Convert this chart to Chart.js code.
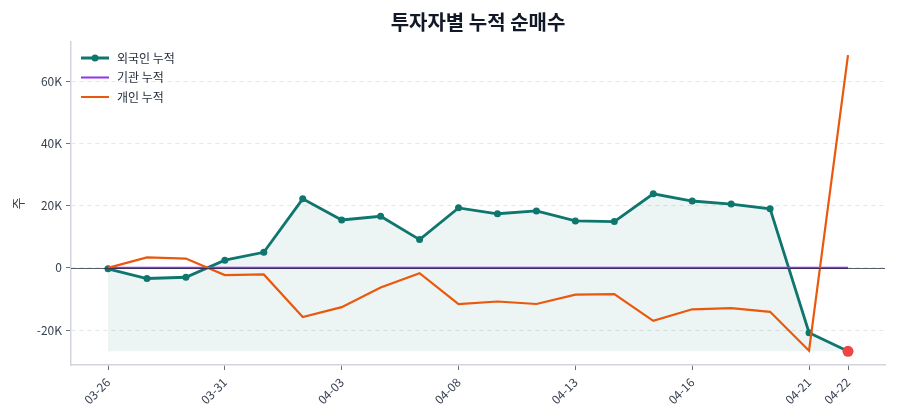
<!DOCTYPE html>
<html><head><meta charset="utf-8">
<script src="https://cdn.jsdelivr.net/npm/chart.js@4/dist/chart.umd.min.js"></script>
<style>html,body{margin:0;padding:0;background:#fff}</style>
</head><body>
<canvas id="c" width="900" height="420"></canvas>
<script>
const dates = ['03-26','03-27','03-28','03-31','04-01','04-02','04-03','04-04','04-07','04-08','04-09','04-10','04-13','04-14','04-15','04-16','04-17','04-18','04-21','04-22'];
const foreign = [-300,-3400,-3000,2500,5000,22200,15400,16600,9100,19300,17400,18300,15100,14900,23800,21500,20500,19000,-20800,-26800];
const institution = [0,0,0,0,0,0,0,0,0,0,0,0,0,0,0,0,0,0,0,0];
const individual = [0,3400,3000,-2300,-2100,-15800,-12600,-6300,-1700,-11600,-10800,-11600,-8600,-8400,-17000,-13300,-12900,-14100,-26600,68400];
const yTicks = [-20000,0,20000,40000,60000];
const xTickIdx = [0,3,6,9,12,15,18,19];
const seriesNames = ['외국인 누적','기관 누적','개인 누적'];

const F = "'Noto Sans CJK KR','Noto Sans',sans-serif";
const TEAL = '#0f766e', PURPLE = '#9333ea', ORANGE = '#ea580c', RED = '#ef4444';
const pts = arr => arr.map((v,i)=>({x:i,y:v}));
const last = foreign.length - 1;

const zeroLine = {
  id:'zeroLine',
  afterDatasetsDraw(chart){
    const {ctx, chartArea:a, scales:{y}} = chart;
    const py = Math.round(y.getPixelForValue(0)) + 0.5;
    ctx.save();
    ctx.strokeStyle = 'rgba(30,41,59,0.75)'; ctx.lineWidth = 1.2;
    ctx.beginPath(); ctx.moveTo(a.left, py); ctx.lineTo(a.right, py); ctx.stroke();
    ctx.restore();
  }
};
const innerLegend = {
  id:'innerLegend',
  afterDraw(chart){
    const {ctx, chartArea:a} = chart;
    const items = [
      {label:seriesNames[0], color:TEAL, w:3, dot:true},
      {label:seriesNames[1], color:PURPLE, w:2, dot:false},
      {label:seriesNames[2], color:ORANGE, w:2, dot:false}
    ];
    ctx.save();
    ctx.font = "12px " + F;
    ctx.textBaseline = 'middle';
    items.forEach((it,i)=>{
      const y = a.top + 16 + i*19.5;
      const x0 = a.left + 10;
      ctx.strokeStyle = it.color; ctx.lineWidth = it.w;
      ctx.beginPath(); ctx.moveTo(x0, y); ctx.lineTo(x0+28, y); ctx.stroke();
      if (it.dot){ ctx.fillStyle = it.color; ctx.beginPath(); ctx.arc(x0+14, y, 3.5, 0, Math.PI*2); ctx.fill(); }
      ctx.fillStyle = '#1f2937';
      ctx.fillText(it.label, x0+36, y);
    });
    ctx.restore();
  }
};

new Chart(document.getElementById('c'), {
  type:'line',
  data:{
    datasets:[
      {label:seriesNames[0], data:pts(foreign), borderColor:TEAL, borderWidth:2.8, tension:0, order:2,
       fill:{value:Math.min(...foreign)}, backgroundColor:'rgba(15,118,110,0.08)',
       pointRadius:c=>c.dataIndex===last?5.5:3.5,
       pointBackgroundColor:c=>c.dataIndex===last?RED:TEAL,
       pointBorderColor:c=>c.dataIndex===last?RED:TEAL, pointBorderWidth:0},
      {label:seriesNames[1], data:pts(institution), borderColor:PURPLE, borderWidth:2.2, tension:0, order:1, pointRadius:0, fill:false},
      {label:seriesNames[2], data:pts(individual), borderColor:ORANGE, borderWidth:2.2, tension:0, order:0, pointRadius:0, fill:false}
    ]
  },
  options:{
    responsive:false, animation:false, devicePixelRatio:1,
    layout:{padding:{left:0,right:15,top:0,bottom:0}},
    plugins:{
      legend:{display:false}, tooltip:{enabled:false},
      title:{display:true, text:'투자자별 누적 순매수', fullSize:false, color:'#111827',
             font:{family:F, size:20, weight:'bold'}, padding:{top:10,bottom:8}}
    },
    scales:{
      x:{type:'linear', min:-0.95, max:19.95,
         afterBuildTicks:s=>{s.ticks = xTickIdx.map(v=>({value:v}));},
         ticks:{autoSkip:false, maxRotation:45, minRotation:45, callback:v=>dates[v],
                font:{family:F,size:12}, color:'#374151', padding:5},
         grid:{display:true, drawOnChartArea:false, drawTicks:true, tickLength:5, tickColor:'#6b7280'},
         border:{display:true, color:'#d1d5db', width:1.5},
         afterFit:s=>{s.height = 55;}
      },
      y:{min:-31200, max:72600,
         afterBuildTicks:s=>{s.ticks = yTicks.map(v=>({value:v}));},
         ticks:{callback:v=>v===0?'0':(v/1000)+'K', font:{family:F,size:12}, color:'#374151', padding:4},
         grid:{color:'#e5e7eb', tickColor:'#6b7280', tickLength:5, lineWidth:1},
         border:{display:true, color:'#d1d5db', width:1.5, dash:[4,4]},
         title:{display:true, text:'주', color:'#374151', font:{family:F,size:13}, padding:{top:10,bottom:0}},
         afterFit:s=>{s.width = 71;}
      }
    }
  },
  plugins:[zeroLine, innerLegend]
});
</script>
</body></html>
